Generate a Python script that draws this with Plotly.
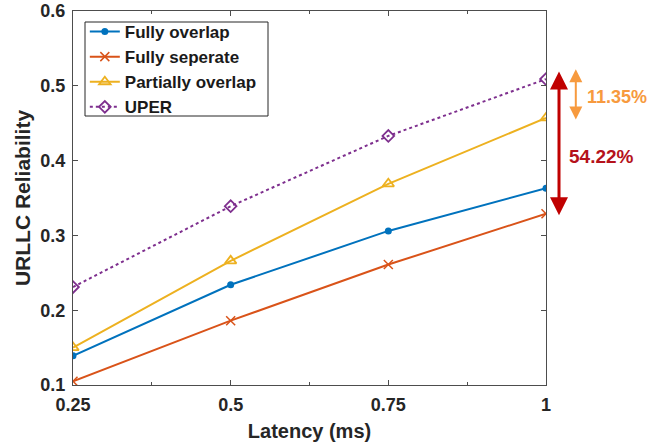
import plotly.graph_objects as go

latency = [0.25, 0.5, 0.75, 1.0]
fully_overlap = [0.139, 0.234, 0.306, 0.363]
fully_separate = [0.105, 0.186, 0.261, 0.329]
partially_overlap = [0.150, 0.266, 0.369, 0.457]
uper = [0.231, 0.339, 0.433, 0.509]

x_ticks = [0.25, 0.5, 0.75, 1.0]
x_tick_labels = ["0.25", "0.5", "0.75", "1"]
y_ticks = [0.1, 0.2, 0.3, 0.4, 0.5, 0.6]
y_tick_labels = ["0.1", "0.2", "0.3", "0.4", "0.5", "0.6"]

gain_total = "54.22%"
gain_partial = "11.35%"

FONT = "Liberation Sans, Arial, sans-serif"
Y_RANGE = [0.1, 0.6]
PLOT_H = 447 - 11 - 62  # px height of plot area
PX_PER_UNIT = PLOT_H / (Y_RANGE[1] - Y_RANGE[0])

fig = go.Figure()
fig.add_trace(go.Scatter(x=latency, y=fully_overlap, name="Fully overlap", mode="lines+markers",
                         line=dict(color="#0072BD", width=2),
                         marker=dict(symbol="circle", size=7, color="#0072BD")))
fig.add_trace(go.Scatter(x=latency, y=fully_separate, name="Fully seperate", mode="lines+markers",
                         line=dict(color="#D95319", width=2),
                         marker=dict(symbol="x-thin", size=9, color="#D95319",
                                     line=dict(color="#D95319", width=1.5))))
fig.add_trace(go.Scatter(x=latency, y=partially_overlap, name="Partially overlap", mode="lines+markers",
                         line=dict(color="#EDB120", width=2),
                         marker=dict(symbol="triangle-up-open", size=10, color="#EDB120",
                                     line=dict(width=1.8))))
fig.add_trace(go.Scatter(x=latency, y=uper, name="UPER", mode="lines+markers",
                         line=dict(color="#7E2F8E", width=2, dash="dot"),
                         marker=dict(symbol="diamond-open", size=9, color="#7E2F8E",
                                     line=dict(width=1.8))))

# Double-headed arrows (outside the plot area, so positioned in paper x)
red_top = uper[-1] + 0.010
red_bot = fully_separate[-1] - 0.004
fig.add_annotation(x=1.0275, y=red_top, xref="paper", yref="y",
                   ax=0, ay=(red_top - red_bot) * PX_PER_UNIT, text="",
                   showarrow=True, arrowhead=2, arrowside="end+start", arrowsize=1.2,
                   arrowwidth=3, arrowcolor="#C00000")
or_top = uper[-1] + 0.013
or_bot = partially_overlap[-1] - 0.004
fig.add_annotation(x=1.063, y=or_top, xref="paper", yref="y",
                   ax=0, ay=(or_top - or_bot) * PX_PER_UNIT, text="",
                   showarrow=True, arrowhead=2, arrowside="end+start", arrowsize=1.3,
                   arrowwidth=2, arrowcolor="#F79A3E")
fig.add_annotation(x=1.083, y=0.485, xref="paper", yref="y", text=gain_partial, showarrow=False,
                   xanchor="left", font=dict(family=FONT, size=18, color="#F79A3E", weight="bold"))
fig.add_annotation(x=1.044, y=0.406, xref="paper", yref="y", text=gain_total, showarrow=False,
                   xanchor="left", font=dict(family=FONT, size=19, color="#B5121B", weight="bold"))

# Legend frame (tighter than plotly's own legend box)
fig.add_shape(type="rect", xref="paper", yref="paper",
              x0=(85 - 73) / 473, x1=(268 - 73) / 473,
              y0=1 - (116 - 11) / 374, y1=1 - (22 - 11) / 374,
              line=dict(color="#262626", width=1), fillcolor="white", layer="below")

axis_common = dict(showline=True, linecolor="#4d4d4d", linewidth=1, mirror="ticks",
                   ticks="inside", ticklen=5, tickcolor="#4d4d4d", showgrid=False, zeroline=False,
                   automargin=False, ticklabelstandoff=3,
                   tickfont=dict(family=FONT, size=18, color="#262626", weight="bold"))

fig.update_layout(
    width=662, height=447,
    margin=dict(l=73, r=116, t=11, b=62),
    paper_bgcolor="white", plot_bgcolor="white",
    font=dict(family=FONT, color="#262626"),
    showlegend=True,
    legend=dict(x=0.025, y=1 - (14 - 11) / 374, xanchor="left", yanchor="top",
                bgcolor="rgba(0,0,0,0)", borderwidth=0,
                font=dict(family=FONT, size=17, color="#1a1a1a", weight="bold"),
                itemwidth=30, tracegroupgap=0),
    xaxis=dict(range=[0.25, 1.0], tickvals=x_ticks, ticktext=x_tick_labels,
               minor=dict(dtick=0.125, tick0=0.25, ticks="inside", ticklen=3, tickcolor="#4d4d4d"),
               title=dict(text="Latency (ms)", standoff=10,
                          font=dict(family=FONT, size=20, color="#262626", weight="bold")),
               **axis_common),
    yaxis=dict(range=Y_RANGE, tickvals=y_ticks, ticktext=y_tick_labels,
               title=dict(text="URLLC Reliability", standoff=4,
                          font=dict(family=FONT, size=21, color="#262626", weight="bold")),
               **axis_common),
)

fig.write_html("out.html", config={"displayModeBar": False},
               post_script="document.body.style.margin='0';")
